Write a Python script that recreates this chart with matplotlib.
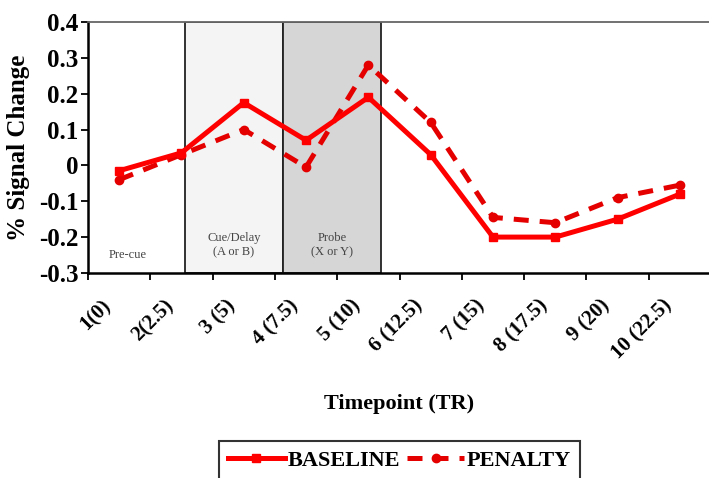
import matplotlib
matplotlib.use("Agg")
import matplotlib.pyplot as plt
import matplotlib.transforms as mtransforms
from matplotlib.patches import Rectangle

# =====================================
# DATA
# =====================================

timepoints = ["1(0)", "2(2.5)", "3 (5)", "4 (7.5)", "5 (10)",
              "6 (12.5)", "7 (15)", "8 (17.5)", "9 (20)", "10 (22.5)"]
baseline = [-0.015, 0.035, 0.175, 0.07, 0.19, 0.03, -0.2, -0.2, -0.15, -0.08]
penalty = [-0.04, 0.03, 0.10, -0.005, 0.28, 0.12, -0.145, -0.16, -0.09, -0.055]

yticks = [-0.3, -0.2, -0.1, 0, 0.1, 0.2, 0.3, 0.4]
ytick_labels = ["-0.3", "-0.2", "-0.1", "0", "0.1", "0.2", "0.3", "0.4"]

# phase boxes (category units): label, start, end, colour
phases = [("Cue/Delay\n(A or B)", 1.06, 2.63, "#f4f4f4"),
          ("Probe\n(X or Y)", 2.63, 4.20, "#d6d6d6")]

# =====================================
# PLOT
# =====================================

plt.rcParams["font.family"] = ["Liberation Serif", "DejaVu Serif"]
plt.rcParams["font.weight"] = "bold"

fig = plt.figure(figsize=(7.09, 4.78), dpi=100)
ax = fig.add_axes([0.124, 0.429, 0.879, 0.525])

x = list(range(len(timepoints)))

for label, x0, x1, col in phases:
    ax.add_patch(Rectangle((x0, -0.3), x1 - x0, 0.7, facecolor=col,
                           edgecolor="#222222", linewidth=1.3, zorder=1))
    ax.text((x0 + x1) / 2, -0.222, label, ha="center", va="center",
            fontsize=9, fontweight="normal", color="#444444",
            linespacing=1.3, zorder=2)
ax.text(0.13, -0.249, "Pre-cue", ha="center", va="center",
        fontsize=9, fontweight="normal", color="#444444", zorder=2)

ax.plot(x, penalty, color="#e50000", linewidth=3.6, linestyle=(0, (3.0, 2.2)),
        marker="o", markersize=6, label="PENALTY", zorder=3)
ax.plot(x, baseline, color="#ff0000", linewidth=3.6, linestyle="-",
        marker="s", markersize=6, label="BASELINE", zorder=4)

ax.set_xlim(-0.5, 9.5)
ax.set_ylim(-0.3, 0.4)

ax.set_yticks(yticks)
ax.set_yticklabels(ytick_labels, fontsize=18, fontweight="bold")

ax.set_xticks([i - 0.5 for i in range(11)])
ax.set_xticklabels([])
ax.set_xticks(x, minor=True)
ax.set_xticklabels(timepoints, minor=True, rotation=45, ha="right",
                   rotation_mode="anchor", fontsize=15, fontweight="bold")
ax.tick_params(axis="x", which="minor", length=0, pad=10)
ax.tick_params(axis="x", which="major", length=5, width=1.3, direction="out")
ax.tick_params(axis="y", length=5, width=1.3, direction="out", pad=2)

# shift rotated labels so their ends sit left of the category centre
shift = mtransforms.ScaledTranslation(-0.18, -0.09, fig.dpi_scale_trans)
for lbl in ax.get_xticklabels(minor=True):
    lbl.set_transform(lbl.get_transform() + shift)

for side in ["left", "bottom"]:
    ax.spines[side].set_linewidth(1.8)
ax.spines["top"].set_color("#666666")
ax.spines["top"].set_linewidth(1.3)
ax.spines["right"].set_visible(False)

ax.set_ylabel("% Signal Change", fontsize=18, fontweight="bold", labelpad=6)
ax.set_xlabel("Timepoint (TR)", fontsize=16, fontweight="bold", labelpad=22)

handles, labels = ax.get_legend_handles_labels()
leg = fig.legend(handles[::-1], labels[::-1], loc="upper center",
                 bbox_to_anchor=(0.563, 0.077), ncol=2, frameon=True,
                 fancybox=False, edgecolor="black", borderaxespad=0,
                 handlelength=2.6, handletextpad=0.1, columnspacing=0.3,
                 borderpad=0.4, prop={"weight": "bold", "size": 16})
leg.get_frame().set_linewidth(1.5)

fig.savefig("out.png", dpi=100)
